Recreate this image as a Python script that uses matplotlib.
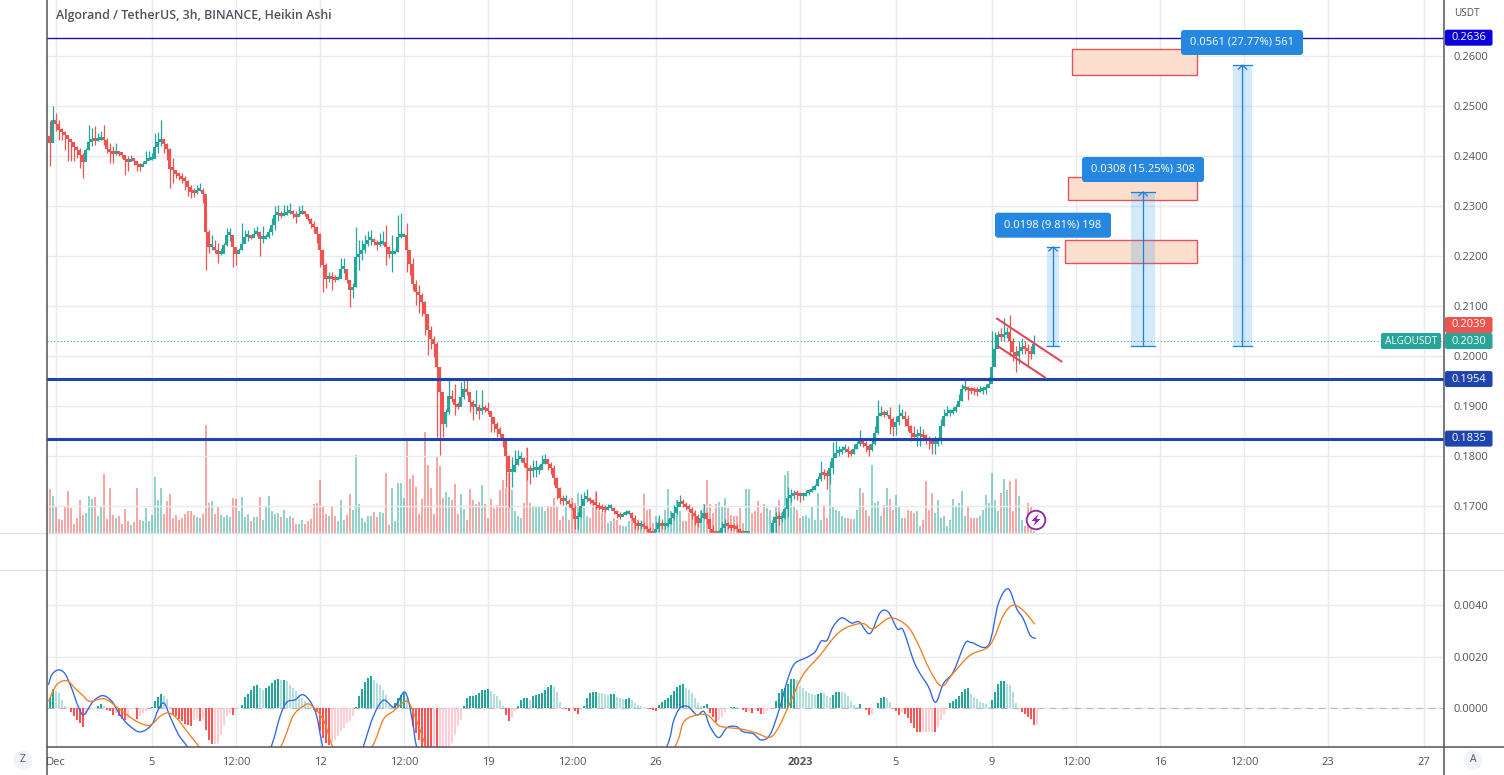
import numpy as np
import matplotlib
matplotlib.use("Agg")
import matplotlib.pyplot as plt
from matplotlib.patches import Circle, FancyBboxPatch, Rectangle, Polygon, PathPatch
from matplotlib.path import Path

plt.rcParams['font.family'] = ['Open Sans', 'DejaVu Sans']

# ---------- data: prices in units of 0.0001, one row per day (8 three-hour bars) ----------
FIRST_BAR = -2
OPEN_FIRST = 2440
CLOSE = [2427, 2473,
 2465,2453,2449,2442,2435,2429,2419,2412, 2402,2389,2412,2429,2432,2431,2433,2439,
 2432,2415,2409,2405,2409,2405,2402,2392, 2389,2393,2391,2382,2379,2385,2391,2393,
 2395,2419,2429,2435,2425,2415,2375,2372, 2365,2360,2355,2351,2339,2329,2327,2331,
 2333,2325,2249,2219,2219,2212,2205,2205, 2222,2242,2242,2219,2205,2212,2225,2239,
 2239,2237,2244,2249,2235,2235,2239,2249, 2262,2282,2282,2280,2282,2287,2291,2284,
 2279,2285,2289,2285,2275,2265,2259,2245, 2212,2182,2155,2159,2155,2152,2155,2175,
 2175,2152,2132,2138,2198,2205,2212,2225, 2232,2233,2228,2222,2225,2228,2219,2205,
 2205,2208,2239,2239,2242,2212,2185,2145, 2129,2122,2109,2085,2052,2035,2025,1979,
 1929,1865,1889,1922,1915,1904,1900,1919, 1935,1929,1909,1900,1900,1892,1895,1893,
 1891,1879,1865,1855,1845,1832,1802,1769, 1769,1784,1795,1797,1788,1778,1772,1773,
 1773,1773,1786,1795,1785,1777,1758,1738, 1718,1712,1712,1706,1698,1675,1680,1702,
 1715,1718,1712,1708,1704,1698,1695,1693, 1697,1698,1692,1685,1680,1684,1686,1688,
 1678,1668,1662,1662,1660,1655,1648,1646, 1655,1668,1662,1662,1665,1677,1688,1700,
 1710,1706,1700,1695,1688,1682,1668,1677, 1688,1675,1655,1648,1646,1648,1658,1665,
 1662,1658,1657,1655,1648,1645,1645,1645, 1640,1638,1636,1634,1632,1632,1634,1668,
 1679,1675,1678,1695,1718,1722,1726,1724, 1722,1722,1728,1730,1733,1742,1755,1768,
 1764,1762,1778,1798,1808,1810,1813,1815, 1810,1806,1815,1825,1832,1825,1821,1814,
 1825,1848,1882,1885,1884,1884,1875,1859, 1869,1882,1882,1875,1862,1848,1839,1842,
 1842,1839,1837,1832,1825,1825,1832,1862, 1882,1888,1888,1892,1899,1912,1935,1937,
 1933,1932,1931,1929,1932,1933,1937,1945, 1979,2015,2042,2039,2042,2049,2032,2009,
 2002,2012,2019,2015,2012,2005,2025]
HIGH = [2469, 2500,
 2485,2471,2455,2449,2442,2432,2425,2419, 2415,2405,2415,2462,2455,2459,2445,2449,
 2462,2435,2425,2419,2425,2410,2405,2402, 2399,2402,2395,2389,2385,2389,2409,2409,
 2405,2445,2447,2472,2432,2425,2415,2395, 2372,2365,2365,2360,2352,2342,2335,2342,
 2345,2335,2289,2252,2242,2232,2225,2215, 2225,2255,2255,2232,2215,2215,2265,2252,
 2252,2242,2255,2260,2249,2259,2244,2255, 2275,2299,2302,2289,2302,2302,2305,2291,
 2289,2299,2302,2289,2282,2275,2269,2259, 2245,2213,2185,2168,2168,2162,2159,2195,
 2195,2172,2152,2145,2258,2232,2232,2242, 2249,2252,2235,2232,2245,2249,2262,2219,
 2242,2212,2282,2285,2245,2265,2195,2195, 2152,2142,2125,2109,2082,2059,2039,2029,
 1979,1909,1895,1952,1932,1945,1909,1949, 1955,1955,1929,1912,1932,1905,1932,1902,
 1909,1889,1879,1869,1859,1845,1832,1802, 1799,1812,1812,1808,1799,1819,1782,1792,
 1792,1782,1802,1805,1795,1788,1782,1758, 1738,1722,1722,1715,1708,1702,1688,1725,
 1728,1735,1718,1715,1728,1708,1705,1702, 1704,1705,1698,1692,1688,1688,1692,1692,
 1688,1682,1672,1672,1668,1662,1658,1648, 1668,1682,1675,1668,1675,1688,1702,1712,
 1722,1715,1708,1705,1698,1692,1685,1692, 1705,1688,1672,1662,1648,1652,1668,1675,
 1668,1665,1665,1665,1655,1652,1648,1648, 1645,1643,1641,1640,1638,1638,1645,1680,
 1688,1688,1690,1698,1738,1735,1732,1732, 1728,1728,1732,1735,1740,1745,1760,1790,
 1775,1772,1790,1828,1830,1820,1820,1825, 1820,1815,1825,1830,1852,1835,1830,1825,
 1835,1860,1912,1900,1892,1892,1898,1878, 1880,1905,1895,1890,1882,1862,1860,1855,
 1860,1855,1845,1840,1835,1840,1838,1875, 1895,1900,1895,1898,1905,1925,1945,1952,
 1940,1938,1938,1938,1940,1940,1945,1958, 2050,2048,2050,2055,2075,2058,2082,2035,
 2020,2030,2035,2030,2025,2020,2042]
LOW = [2379, 2427,
 2449,2432,2432,2412,2389,2389,2389,2395, 2375,2355,2389,2412,2419,2422,2429,2432,
 2422,2405,2385,2385,2402,2399,2395,2362, 2369,2389,2382,2369,2369,2380,2387,2391,
 2392,2395,2405,2419,2405,2392,2335,2345, 2355,2352,2345,2332,2319,2315,2317,2324,
 2329,2305,2172,2205,2212,2205,2185,2202, 2212,2219,2229,2178,2182,2205,2212,2225,
 2229,2233,2239,2240,2200,2225,2233,2235, 2242,2252,2269,2275,2279,2282,2284,2275,
 2265,2280,2284,2279,2269,2255,2245,2225, 2178,2128,2135,2148,2132,2148,2152,2159,
 2165,2145,2098,2115,2138,2172,2192,2205, 2219,2222,2222,2212,2219,2222,2182,2195,
 2168,2204,2208,2235,2239,2168,2162,2132, 2102,2085,2079,2042,2002,2015,1999,1838,
 1802,1838,1859,1885,1909,1882,1895,1905, 1915,1922,1889,1872,1885,1875,1885,1889,
 1885,1849,1849,1839,1839,1819,1739,1698, 1738,1768,1782,1788,1778,1752,1745,1758,
 1758,1765,1775,1785,1772,1765,1742,1715, 1705,1702,1702,1698,1692,1655,1655,1678,
 1705,1708,1704,1702,1695,1692,1688,1688, 1692,1693,1685,1677,1675,1680,1682,1684,
 1672,1655,1655,1655,1655,1648,1646,1645, 1645,1648,1655,1655,1658,1665,1672,1685,
 1704,1698,1692,1688,1675,1662,1658,1668, 1675,1665,1645,1645,1645,1645,1648,1648,
 1655,1652,1652,1648,1645,1645,1645,1645, 1632,1630,1628,1626,1624,1624,1626,1640,
 1645,1662,1668,1675,1678,1708,1715,1712, 1708,1712,1720,1722,1728,1733,1740,1750,
 1755,1735,1745,1765,1800,1800,1805,1808, 1798,1800,1805,1815,1820,1818,1808,1800,
 1810,1822,1845,1880,1878,1880,1845,1840, 1842,1862,1875,1860,1850,1830,1835,1820,
 1820,1830,1825,1815,1805,1805,1820,1825, 1860,1880,1880,1885,1888,1900,1910,1930,
 1912,1925,1922,1920,1928,1925,1925,1938, 1955,2000,2030,2030,2030,2035,2000,1990,
 1968,1985,2005,2005,1978,1995,2005]
VOLUME = [44, 37,
 27,14,13,27,42,25,9,15, 33,18,20,37,34,36,17,27, 59,14,45,18,15,17,9,24, 12,8,11,45,13,12,25,12,
 18,56,33,45,19,32,39,15, 18,13,15,19,22,22,18,16, 15,19,108,30,32,19,27,18, 16,18,16,35,34,22,36,16,
 19,12,16,16,36,13,27,37, 22,19,20,16,23,15,17,15, 9,9,13,9,12,14,29,30, 53,27,19,17,27,17,12,33,
 13,18,39,23,78,29,15,11, 17,17,21,16,21,20,60,8, 45,12,50,50,35,95,54,58, 46,19,34,101,68,45,19,77,
 67,35,41,36,33,49,19,39, 24,13,44,33,29,31,48,29, 15,34,25,28,43,53,45,60, 43,22,17,15,30,85,30,27,
 27,26,27,22,27,26,35,27, 13,17,27,13,35,30,40,18, 25,17,15,30,42,22,20,22, 10,12,15,13,8,7,7,12,
 17,12,13,10,39,23,24,10, 17,15,8,23,44,22,18,33, 22,12,12,20,20,22,12,23, 29,53,29,20,29,31,27,35,
 25,18,17,17,25,10,44,44, 20,22,32,20,29,25,23,13, 27,33,20,58,62,37,27,23, 15,17,18,15,27,13,40,13,
 28,15,57,27,23,22,17,15, 15,14,14,23,45,40,23,17, 68,30,32,17,28,45,34,23, 38,27,15,15,23,22,20,22,
 7,13,52,23,40,20,33,15, 17,7,13,34,27,30,42,17, 27,15,15,15,17,23,38,30, 60,33,22,40,54,43,52,22,
 54,37,13,7,30,27,2]
# MACD panel values in units of 0.0001
HIST = [3.9, 7.4,
 6.7,5.8,3.2,0.9,0,-1.7,-3.2,-4.5, -5.8,-7.5,-2.6,-0.6,-0.1,0,0.9,1.7, 0.6,-0.6,-1.3,-2.6,-1.9,-3.2,-4.3,-4.5,
 -4.3,-0.6,-0.4,-4.3,-3.2,-1.9,-1.3,-0.1, 0.4,2.6,4.3,5.5,4.8,3.5,0.4,-2.6, -3.2,-4.3,-5.2,-6.1,-6.5,-7.1,-4.5,-4.3,
 -5.2,-4.3,-8.6,-12.3,-13.8,-13.8,-13.5,-10.3, -6.5,-3.2,-1.9,-2.6,-0.6,0,1.3,4.3, 5.5,6.8,8.4,9,7.7,6.8,7.7,8.6,
 9.9,11,11.4,11,11,10.3,9,7.7, 6.5,5.2,3.9,2.6,1.3,0.3,-0.6,-1.7, -9,-11.6,-13.5,-14.2,-13.5,-12.3,-11,-9,
 -7.7,-5.8,-5.2,-3.2,0.3,4.5,7.4,10, 11.6,12.3,11,9.7,9,7.1,5.2,1.3, 0.6,1.9,3.9,5.2,6,3.9,0,-7.1,
 -9.7,-12.3,-15,-16,-17,-18,-18,-18.5, -18,-17,-16,-15.5,-13.5,-10.3,-7.1,-4.5, 0.9,3.9,4.5,4.8,5.2,5.8,6.8,7.1,
 7.4,6.5,5.5,4.5,3.2,0.9,-2.6,-5.2, -3.9,-1.3,0.6,3,3.9,3.9,3.2,4.8, 5.2,5.5,5.9,7,8.3,8.8,8.3,6.3,
 2.5,0.1,-0.3,-1.3,-0.5,-1,-2.5,-0.8, 0.8,3.7,5.7,6.2,6.2,5.9,5.7,5.3, 5,5.4,5.4,4.4,3.7,3.4,3.4,3.9,
 3.1,2.1,1.2,0.8,0.5,0,-0.3,-0.8, -1.3,1,2.5,3.1,3.7,5,6.7,8, 8.9,9.3,7.6,7,5.7,3.7,2.1,0.8,
 0.8,1.5,-2.1,-3.4,-5.3,-4.6,-3.4,-1.4, -0.1,0.4,0.5,0.3,-0.1,-0.8,-1.4,-1.2, -1.8,-0.8,-1.2,-2.3,-2.3,-1,-0.5,0.1,
 2.8,5.9,7.2,7.6,9.3,11.1,11.4,10.8, 8.5,7.6,6.7,5.9,5.3,5,5.4,5.9, 5.7,4.6,4.1,5,6.1,6.2,6.1,5.7,
 4.6,2.8,1.2,0.5,1.5,0,-0.8,-2.6, -2.6,-0.1,1.8,3.7,4.1,3.7,2.2,0, -1,-2.8,-1.4,-2.3,-4,-5.9,-7.9,-9.2,
 -9.5,-9.3,-9.3,-9.3,-9.2,-9.5,-7.2,-4.6, -2.7,-0.3,2.1,2.8,3.4,4.6,6.3,7.2, 7.6,5.4,4.4,3.4,2.5,1.8,1.5,0.5,
 3.1,6.3,9.5,10.4,10.4,9.5,8.8,6.3, 1.8,-0.1,-1.4,-2.5,-3.4,-4.4,-6.6,-6.6]
MACD_BARS = [-2.5,-1.4,0.8,3,5.2,7.4,9.3,12.4,15.6,18.6,21.3,24.1,28,31.9,34.1,36,38,40.8,43.8,48,54,60,66,71.7,74.7,76.9,
 79.7,82.2,84.7,86.9,88.9,92,97,102.4,105.8,109.1,112.4,114.1,116,117.4,119.1,120.2,125,135,145,155,170,185,195,203.6,
 205.8,208,210.8,213.6,216,218,220.9,223.7,226.8,229,232.4,235,238,241,244,246.3,250.2,253,255,257,259,261.9,265.2,267.8,
 271.3,274.7,277.4,280.4,282.4,285.8,288,290.8,293.2,295.8,299.1,303,305.2,310.8,314.1,317.4,320.2,322.4,324.7,326.6]
MACD_VALS = [9,12.9,14.8,13.3,7.7,0.6,-2.6,2.6,4.8,2.6,-2.6,-6.5,-9.3,-6.5,-0.6,1.9,-3.2,-10.3,-15.2,-25,-35,-38,-32,-15.2,-3.2,2.2,
 3.2,5.2,2.6,-3.2,-15.2,-30,-35,-15.2,-3.2,3,0.3,2.6,6.2,3.2,-7.1,-15.2,-40,-80,-85,-90,-75,-50,-35,-15,
 -5.3,0,0.5,-2.7,-1.4,-7.2,-11.5,-7.6,-7.2,-9.2,-10,-12.4,-10.4,-0.8,11.5,17.3,19.6,21.8,25.9,26.3,31.5,35,33,33.4,
 28.9,37,37.3,30.8,30.2,18.6,13.4,8.3,2.2,9.5,14,25,25.4,24.4,40.5,46.3,38.6,34.7,28.3,27]
SIGNAL_BARS = [-2.5,0.2,3.6,6.3,9,11.3,16.3,21.3,26.9,31.3,34.7,37.4,40.2,43.6,47.8,52,60,68,74.9,79,82.4,84.7,89.1,92.2,97,105.3,
 109.1,112.4,116.9,119.6,123.3,130,145,160,180,195,206.3,209,212.4,217,220.9,224,229,233.6,238,241,244.6,249,254.7,260,
 264,269,272.4,278,283.6,287,291.3,295.2,299,304.7,311.3,315.8,319,322.4,326.3]
SIGNAL_VALS = [2.6,9,10.6,7.7,4.8,2.6,3.5,-0.6,-5.2,-6.7,-3.2,-1.9,-3.9,-9,-15.2,-22,-30,-28,-15.2,-3.2,0.6,1.3,-4.5,-15.2,-28,-15.2,
 -4.5,-1.3,2.6,-3.2,-15.2,-40,-75,-80,-55,-35,-15,-5.9,-3.1,-2.7,-6.8,-7.6,-8.3,-9.8,-11.4,-7.2,1.8,12.8,20.5,28.3,
 31.5,32.8,30.8,35,32,25.7,14.7,8.5,13.4,20.5,24.4,36,39.9,37.9,32.5]
# x axis
TICK_BARS = [0,32,60,88,116,144,172,200,248,280,312,340,368,396,424,456]
TICK_LABELS = ['Dec','5','12:00','12','12:00','19','12:00','26','2023','5','9','12:00','16','12:00','23','27']
PRICE_TICKS = [1700,1800,1900,2000,2100,2200,2300,2400,2500,2600]
PRICE_TICK_LABELS = ['0.1700','0.1800','0.1900','0.2000','0.2100','0.2200','0.2300','0.2400','0.2500','0.2600']
MACD_TICKS = [0,20,40]
MACD_TICK_LABELS = ['0.0000','0.0020','0.0040']
# drawings
LEVEL_TOP = 2636
LEVELS = [1954, 1835]
LAST_CLOSE = 2030
LAST_OPEN = 2039
ZONES = [(338.6,380.3,2561,2613),(337.3,380.3,2312,2358),(336.3,380.3,2186,2232)]
RANGE_START = 2020
RANGE_BARS = [(330.4,334.3),(358.4,366.3),(392.4,398.6)]
RANGE_DELTAS = [198,308,561]
RANGE_LABELS = ['0.0198 (9.81%) 198','0.0308 (15.25%) 308','0.0561 (27.77%) 561']
FLAG_UPPER = [(313.6,335.2),(2075,1989)]
FLAG_LOWER = [(314.1,329.7),(2019,1957)]

# ---------- colours ----------
TEAL, RED = '#26a69a', '#ef5350'
GRID = '#e9eaee'
SEP = '#dfe1e6'
AXIS = '#50535e'
TXT = '#50535e'
BOX = '#2687e0'

W, H = 1504, 775
fig = plt.figure(figsize=(W/100, H/100), dpi=100, facecolor='white')
def pane(top, bottom, **kw):
    return fig.add_axes([47/W, 1-bottom/H, (1444-47)/W, (bottom-top)/H], **kw)

XLIM = (-3, 462.67)
ax_v = pane(0, 533)
ax = pane(0, 533, sharex=ax_v)
ax_g = pane(533, 570, sharex=ax_v)
ax_m = pane(570, 747, sharex=ax_v)
ax.patch.set_alpha(0)
ax.set_zorder(2)
ax_v.set_zorder(1)
for a in (ax_v, ax, ax_g, ax_m):
    for s in a.spines.values():
        s.set_visible(False)
    a.set_xlim(*XLIM)
    a.tick_params(length=0)
ax.set_ylim(1646.4, 2711.3)
ax_v.set_ylim(0, 533)
ax_m.set_ylim(-15.15, 53.6)

# grids
for a in (ax_v, ax_g, ax_m):
    a.set_xticks(TICK_BARS)
    a.grid(axis='x', color=GRID, lw=1)
    a.set_axisbelow(True)
ax.set_yticks(PRICE_TICKS)
ax.set_yticklabels(PRICE_TICK_LABELS, fontsize=8, color=TXT)
ax.yaxis.tick_right()
ax.tick_params(axis='y', pad=7.2, length=0)
ax.grid(axis='y', color=GRID, lw=1)
ax.grid(axis='x', visible=False)
ax.set_axisbelow(True)
ax_m.set_yticks(MACD_TICKS)
ax_m.set_yticklabels(MACD_TICK_LABELS, fontsize=8, color=TXT)
ax_m.yaxis.tick_right()
ax_m.tick_params(axis='y', pad=7.2, length=0)
ax_m.grid(axis='y', color=GRID, lw=1)
for a in (ax, ax_v, ax_g):
    a.tick_params(axis='x', labelbottom=False)
ax_v.set_yticks([]); ax_g.set_yticks([])
ax_m.set_xticks(TICK_BARS)
ax_m.set_xticklabels(TICK_LABELS, fontsize=8, color=TXT)
ax_m.tick_params(axis='x', pad=7.5, length=0)
ax_m.get_xticklabels()[8].set_fontweight('bold')

# candles
close = np.array(CLOSE, float)
high = np.array(HIGH, float)
low = np.array(LOW, float)
open_ = np.r_[OPEN_FIRST, close[:-1]]
x = np.arange(len(close)) + FIRST_BAR
cols = np.where(close >= open_, TEAL, RED)
ax_v.bar(np.arange(len(VOLUME)) + FIRST_BAR, VOLUME, width=0.62, color=cols[:len(VOLUME)], alpha=0.5, lw=0, zorder=2)
ax.vlines(x, low, high, colors=cols, lw=0.9, zorder=3)
ax.bar(x, np.maximum(np.abs(close-open_), 6), bottom=np.minimum(close, open_)-1, width=1.0, color=cols, lw=0, zorder=3.2)

# levels
ax.axhline(LEVEL_TOP, color='#1c14b0', lw=1, zorder=4)
for lv in LEVELS:
    ax.axhline(lv, color='#1f44ae', lw=2.2, zorder=4)
ax.axhline(LAST_CLOSE, color=TEAL, lw=0.8, ls=(0, (1, 2)), zorder=2)

# zones and ranges
for x0, x1, y0, y1 in ZONES:
    ax.add_patch(Rectangle((x0, y0), x1-x0, y1-y0, facecolor='#fbdfcc', lw=0, zorder=3))
    ax.add_patch(Rectangle((x0, y0), x1-x0, y1-y0, fill=False, edgecolor='#e2535f', lw=1, zorder=3.1))
for (x0, x1), d in zip(RANGE_BARS, RANGE_DELTAS):
    top = RANGE_START + d
    xc = (x0+x1)/2
    ax.add_patch(Rectangle((x0, RANGE_START), x1-x0, d, facecolor='#2196f3', alpha=0.2, lw=0, zorder=3.5))
    ax.plot([xc, xc], [RANGE_START, top], color='#1e7fd8', lw=0.9, zorder=3.6)
    ax.plot([x0, x1], [RANGE_START, RANGE_START], color='#1e7fd8', lw=0.9, zorder=3.6)
    ax.plot([x0, x1], [top, top], color='#1e7fd8', lw=0.9, zorder=3.6)
    ax.plot([xc-1.4, xc, xc+1.4], [top-8, top, top-8], color='#1e7fd8', lw=0.9, zorder=3.6)

# flag
for xs, ys in (FLAG_UPPER, FLAG_LOWER):
    ax.plot(xs, ys, color='#e3485a', lw=1.5, zorder=4, solid_capstyle='round')

# MACD
hist = np.array(HIST)
prev = np.r_[0, hist[:-1]]
hc = np.where(hist >= 0, np.where(hist >= prev, '#26a69a', '#b2dfdb'), np.where(hist < prev, '#ff5252', '#ffcdd2'))
ax_m.bar(np.arange(len(hist)) + FIRST_BAR, hist, width=0.66, color=hc, lw=0, zorder=2)
ax_m.axhline(0, color='#b5b8c0', lw=0.8, ls=(0, (6, 5)), zorder=1.5)

def smooth_line(a, xs, ys, color, z):
    # the read points are joined by a curved path, as the source draws its indicator lines
    p = np.column_stack([xs, ys])
    verts = [p[0]]
    codes = [Path.MOVETO]
    for i in range(len(p)-1):
        p0 = p[max(i-1, 0)]; p1 = p[i]; p2 = p[i+1]; p3 = p[min(i+2, len(p)-1)]
        verts += [p1 + (p2-p0)/6, p2 - (p3-p1)/6, p2]
        codes += [Path.CURVE4]*3
    a.add_patch(PathPatch(Path(np.array(verts), codes), fill=False, edgecolor=color, lw=0.95, zorder=z))

smooth_line(ax_m, MACD_BARS, MACD_VALS, '#2f66e0', 3)
smooth_line(ax_m, SIGNAL_BARS, SIGNAL_VALS, '#f07f20', 3.1)

# ---------- overlay in screen pixels ----------
ov = fig.add_axes([0, 0, 1, 1], zorder=10)
ov.set_xlim(0, W); ov.set_ylim(H, 0); ov.axis('off'); ov.patch.set_alpha(0)
fig.canvas.draw()
def ypx(v):
    return H - ax.transData.transform((0, v))[1]

ov.plot([0, W], [533, 533], color=SEP, lw=1)
ov.plot([0, W], [570, 570], color=SEP, lw=1)
ov.plot([47, 47], [0, 775], color=AXIS, lw=1.1)
ov.plot([1444, 1444], [0, 775], color=AXIS, lw=1.1)
ov.plot([47, W], [747, 747], color=AXIS, lw=1.1)

ov.text(56, 16, 'Algorand / TetherUS, 3h, BINANCE, Heikin Ashi', fontsize=8.9, fontweight=600,
        color='#4f525c', ha='left', va='center')
ov.text(1454, 13, 'USDT', fontsize=7.2, color=TXT, ha='left', va='center')

def axis_label(v, text, color, yoff=0):
    y = ypx(v) + yoff
    ov.add_patch(FancyBboxPatch((1445, y-8), 47.5, 16, boxstyle='round,pad=0,rounding_size=2', fc=color, ec='none'))
    ov.text(1468.5, y, text, fontsize=8, color='white', ha='center', va='center')

axis_label(LEVEL_TOP, '0.2636', '#0a00dc')
axis_label(LEVELS[0], '0.1954', '#1f44ae')
axis_label(LEVELS[1], '0.1835', '#1f44ae')
axis_label(LAST_OPEN, '0.2039', RED, yoff=-11.5)
axis_label(LAST_CLOSE, '0.2030', TEAL)
ov.add_patch(FancyBboxPatch((1381, 333), 60, 16, boxstyle='round,pad=0,rounding_size=2', fc=TEAL, ec='none'))
ov.text(1411, 341, 'ALGOUSDT', fontsize=7.2, color='white', ha='center', va='center')

LABEL_BOXES = [(995, 212.7, 116), (1082, 157, 122), (1181, 30, 122)]
for (bx, by, bw), lab in zip(LABEL_BOXES, RANGE_LABELS):
    ov.add_patch(FancyBboxPatch((bx, by), bw, 25, boxstyle='round,pad=0,rounding_size=3', fc=BOX, ec='none'))
    ov.text(bx+bw/2, by+12.2, lab, fontsize=8, color='white', ha='center', va='center')

# corner buttons
ov.add_patch(Circle((23, 760), 9.5, fc='#f0f3fa', ec='none'))
ov.text(23, 760, 'Z', fontsize=7.5, color=TXT, ha='center', va='center')
ov.add_patch(Circle((1473, 760), 9.5, fc='#f0f3fa', ec='none'))
ov.text(1473, 760, 'A', fontsize=7.5, color=TXT, ha='center', va='center')

# lightning marker
ov.add_patch(Circle((1036, 520), 9.3, fc='white', ec='#8e24aa', lw=1.3))
ov.add_patch(Polygon([(1038.5, 514), (1031.5, 521), (1035.5, 521), (1033.5, 526), (1040.5, 519), (1036.5, 519)],
                     closed=True, fc='#8e24aa', ec='none'))

fig.savefig('out.png', dpi=100, facecolor='white')
